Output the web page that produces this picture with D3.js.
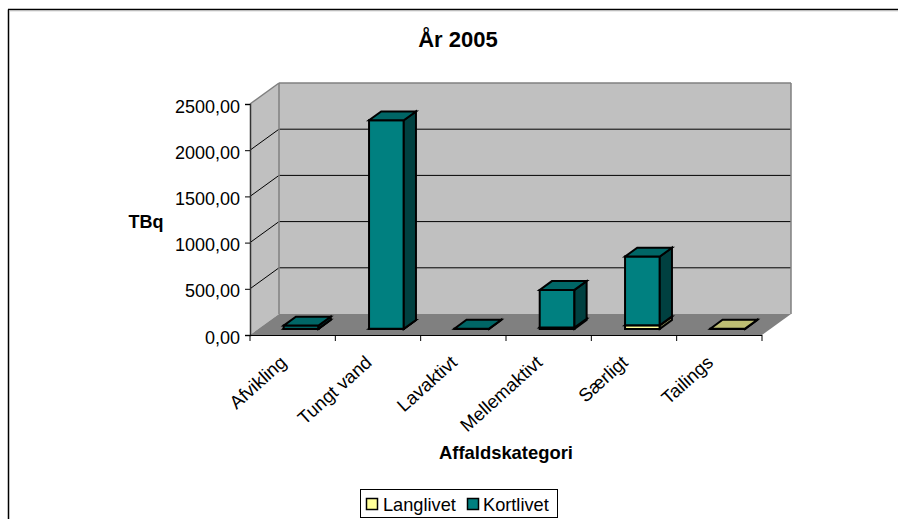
<!DOCTYPE html>
<html>
<head>
<meta charset="utf-8">
<script src="https://cdn.jsdelivr.net/npm/d3@7/dist/d3.min.js"></script>
<style>
html,body{margin:0;padding:0;background:#fff;overflow:hidden}
svg{display:block}
text{font-family:"Liberation Sans",Arial,sans-serif;fill:#000}
</style>
</head>
<body>
<div id="chart"></div>
<script>
const categories = ["Afvikling","Tungt vand","Lavaktivt","Mellemaktivt","Særligt","Tailings"];
const langlivet = [3,1,0,14,40,3];
const kortlivet = [33,2257,3,408,743,0];
const seriesNames = ["Langlivet","Kortlivet"];
const yTicks = [0,500,1000,1500,2000,2500];

const W=898,H=519;
const svg=d3.select("#chart").append("svg").attr("width",W).attr("height",H);

const x0=250,x1=762,y0=335,y1=104,DX=29,DY=21;
const x=d3.scaleBand().domain(categories).range([x0,x1]).paddingInner(0.593).paddingOuter(0.2965);
const y=d3.scaleLinear().domain([0,2500]).range([y0,y1]);
const P=(px,py,d)=>[px+DX*d,py-DY*d];
const poly=(pts,fill,stroke,sw)=>svg.append("polygon").attr("points",pts.map(p=>p.join(",")).join(" "))
  .attr("fill",fill).attr("stroke",stroke||"none").attr("stroke-width",sw||0).attr("stroke-linejoin","miter");
const line=(a,b,c,w)=>svg.append("line").attr("x1",a[0]).attr("y1",a[1]).attr("x2",b[0]).attr("y2",b[1]).attr("stroke",c).attr("stroke-width",w);

// chart frame
line([8.5,519],[8.5,9.5],"#000",1.5);
line([8,9.5],[898,9.5],"#000",1.5);
line([9,10.8],[898,10.8],"#bbb",1);

// walls
poly([P(x0,y0,0),P(x0,y1,0),P(x0,y1,1),P(x0,y0,1)],"#c0c0c0");
poly([P(x0,y1,1),P(x1,y1,1),P(x1,y0,1),P(x0,y0,1)],"#c0c0c0");
poly([P(x0,y0,0),P(x1,y0,0),P(x1,y0,1),P(x0,y0,1)],"#808080");

// gridlines
yTicks.slice(1,-1).forEach(t=>{
  line(P(x0,y(t),0),P(x0,y(t),1),"#000",1);
  line(P(x0,y(t),1),P(x1,y(t),1),"#000",1);
});
// wall edges
const edge="#808080";
line(P(x0,y1,0),P(x0,y1,1),edge,1.5);
line(P(x0,y1,1),P(x1,y1,1),edge,1.5);
line(P(x1,y1,1),P(x1,y0,1),edge,1.5);
line(P(x0,y1,1),P(x0,y0,1),edge,1.5);

// axes
const yAxis=d3.axisLeft(y).tickValues(yTicks).tickSize(5).tickPadding(5)
  .tickFormat(d=>d3.format(".2f")(d).replace(".",","));
const gy=svg.append("g").attr("transform",`translate(${x0},0)`).call(yAxis);
gy.select(".domain").attr("stroke","#333").attr("stroke-width",1.5);
gy.selectAll(".tick line").attr("stroke","#000");
gy.selectAll(".tick text").attr("font-size",18).attr("fill","#000").attr("dy","0.45em").style("font-family",'"Liberation Sans",Arial,sans-serif');

line([x0-5,y0+.5],[x1,y0+.5],"#000",1);
d3.range(categories.length+1).forEach(i=>{
  const tx=x0+i*x.step();
  line([tx,y0],[tx,y0+6],"#000",1);
});

// bars
const colors={
  Kortlivet:{f:"#008080",t:"#006666",s:"#004040"},
  Langlivet:{f:"#ffff99",t:"#bfbf73",s:"#808050"}
};
const dF=0.29,dB=0.71;
const SW=2;
function bar(cat,lo,hi,c){
  const a=x(cat),b=a+x.bandwidth();
  const yl=y(lo),yh=y(hi);
  poly([P(a,yl,dF),P(b,yl,dF),P(b,yh,dF),P(a,yh,dF)],c.f,"#000",SW);
  poly([P(b,yl,dF),P(b,yl,dB),P(b,yh,dB),P(b,yh,dF)],c.s,"#000",SW);
  poly([P(a,yh,dF),P(b,yh,dF),P(b,yh,dB),P(a,yh,dB)],c.t,"#000",SW);
}
categories.forEach((cat,i)=>{
  const l=langlivet[i],k=kortlivet[i];
  if(l>0) bar(cat,0,l,colors.Langlivet);
  if(k>0) bar(cat,l,l+k,colors.Kortlivet);
});

// category labels
categories.forEach((cat,i)=>{
  const cx=x0+(i+0.5)*x.step();
  svg.append("text").attr("text-anchor","end")
    .attr("transform",`translate(${cx-5},${y0+29}) rotate(-42)`)
    .attr("font-size",18.5).text(cat);
});

// titles
svg.append("text").attr("x",458).attr("y",47).attr("text-anchor","middle").attr("font-size",22).attr("font-weight","bold").text("År 2005");
svg.append("text").attr("x",146).attr("y",228).attr("text-anchor","middle").attr("font-size",18).attr("font-weight","bold").text("TBq");
svg.append("text").attr("x",506).attr("y",459).attr("text-anchor","middle").attr("font-size",18.4).attr("font-weight","bold").text("Affaldskategori");

// legend
svg.append("rect").attr("x",360.5).attr("y",489.5).attr("width",197).attr("height",28).attr("fill","#fff").attr("stroke","#000").attr("stroke-width",1);
const keyX=[366,467], txtX=[383,483];
seriesNames.forEach((n,i)=>{
  svg.append("rect").attr("x",keyX[i]+.5).attr("y",498.5).attr("width",11).attr("height",11)
    .attr("fill",colors[n].f).attr("stroke","#000").attr("stroke-width",1.5);
  svg.append("text").attr("x",txtX[i]).attr("y",510.5).attr("font-size",18.2).text(n);
});
</script>
</body>
</html>
